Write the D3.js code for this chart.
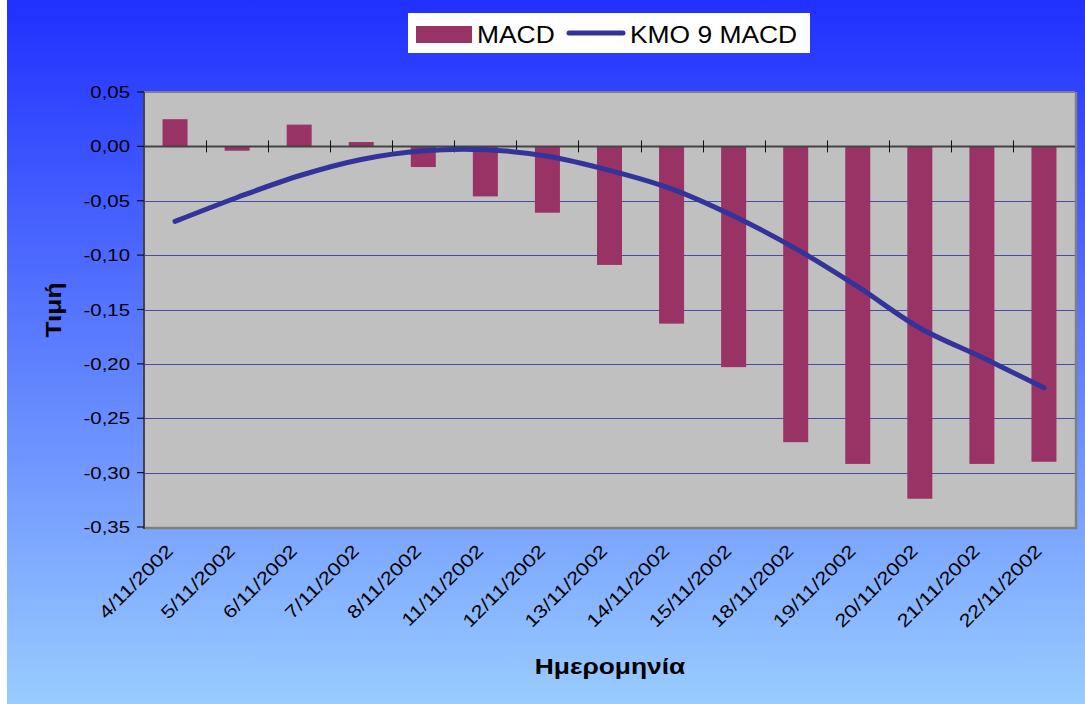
<!DOCTYPE html>
<html><head><meta charset="utf-8">
<script src="https://cdn.jsdelivr.net/npm/d3@7"></script>
<style>body{margin:0;background:#fff}svg{display:block}text{font-family:"Liberation Sans",Arial,sans-serif}</style>
</head><body><svg id="c" width="1085" height="704"></svg>
<script>
const categories = ["4/11/2002","5/11/2002","6/11/2002","7/11/2002","8/11/2002","11/11/2002","12/11/2002","13/11/2002","14/11/2002","15/11/2002","18/11/2002","19/11/2002","20/11/2002","21/11/2002","22/11/2002"];
const macd = [0.025,-0.004,0.020,0.004,-0.019,-0.046,-0.061,-0.109,-0.163,-0.203,-0.272,-0.292,-0.324,-0.292,-0.290];
const signal = [-0.069,-0.047,-0.027,-0.012,-0.004,-0.003,-0.009,-0.022,-0.039,-0.064,-0.094,-0.129,-0.167,-0.194,-0.222];
const yTicks = [0.05,0,-0.05,-0.10,-0.15,-0.20,-0.25,-0.30,-0.35];
const seriesNames = ["MACD","KMO 9 MACD"];

const svg = d3.select("#c");
const defs = svg.append("defs");
const grad = defs.append("linearGradient").attr("id","bg").attr("x1",0).attr("y1",0).attr("x2",0).attr("y2",1);
grad.append("stop").attr("offset","0%").attr("stop-color","#2030ff");
grad.append("stop").attr("offset","100%").attr("stop-color","#99ccff");
svg.append("rect").attr("x",7).attr("y",0).attr("width",1078).attr("height",704).attr("fill","url(#bg)");

const L=144,R=1075,T=92,B=527;
const x = d3.scaleBand().domain(categories).range([L,R]).paddingInner(0).paddingOuter(0);
const y = d3.scaleLinear().domain([-0.35,0.05]).range([B,T]);
const SX = 1.2;
const fmt = v => d3.format(".2f")(v).replace(".",",").replace("−","-");

// plot area
svg.append("rect").attr("x",L).attr("y",T).attr("width",R-L).attr("height",B-T).attr("fill","#c0c0c0");
// gridlines
svg.append("g").selectAll("line").data(yTicks.filter(v=>v!==0&&v!==0.05&&v!==-0.35)).join("line")
  .attr("x1",L).attr("x2",R).attr("y1",d=>Math.round(y(d))+0.5).attr("y2",d=>Math.round(y(d))+0.5)
  .attr("stroke","#4a4aa8").attr("stroke-width",1.2);
// border shadow
svg.append("line").attr("x1",L).attr("x2",R).attr("y1",T).attr("y2",T).attr("stroke","#808080").attr("stroke-width",2);
svg.append("line").attr("x1",R+1).attr("x2",R+1).attr("y1",T).attr("y2",B+2).attr("stroke","#808080").attr("stroke-width",2.5);
svg.append("line").attr("x1",L).attr("x2",R+2).attr("y1",B+1).attr("y2",B+1).attr("stroke","#808080").attr("stroke-width",2.5);

// bars
const bw = 25;
svg.append("g").selectAll("rect").data(macd).join("rect")
  .attr("x",(d,i)=>x(categories[i])+x.bandwidth()/2-bw/2)
  .attr("width",bw)
  .attr("y",d=>Math.min(y(d),y(0)))
  .attr("height",d=>Math.abs(y(d)-y(0)))
  .attr("fill","#993366");

// zero axis line
svg.append("line").attr("x1",L).attr("x2",R).attr("y1",y(0)).attr("y2",y(0)).attr("stroke","#444").attr("stroke-width",2);
// category ticks on zero line
svg.append("g").selectAll("line").data(categories.slice(1)).join("line")
  .attr("x1",d=>Math.round(x(d))+0.5).attr("x2",d=>Math.round(x(d))+0.5)
  .attr("y1",y(0)-6).attr("y2",y(0)+6).attr("stroke","#111").attr("stroke-width",1);

// y axis
svg.append("line").attr("x1",L).attr("x2",L).attr("y1",T).attr("y2",B+2).attr("stroke","#444").attr("stroke-width",2);
svg.append("g").selectAll("line").data(yTicks).join("line")
  .attr("x1",L-7).attr("x2",L).attr("y1",d=>y(d)).attr("y2",d=>y(d)).attr("stroke","#111").attr("stroke-width",1.2);
svg.append("g").selectAll("text").data(yTicks).join("text")
  .attr("transform",d=>`translate(${L-14},${y(d)+6}) scale(${SX},1)`)
  .attr("text-anchor","end").attr("font-size",17).attr("fill","#000")
  .text(d=>fmt(d));

// line
const line = d3.line().x((d,i)=>x(categories[i])+x.bandwidth()/2).y(d=>y(d)).curve(d3.curveCatmullRom.alpha(0.5));
svg.append("path").datum(signal).attr("d",line).attr("fill","none").attr("stroke","#333399")
  .attr("stroke-width",5).attr("stroke-linecap","round").attr("stroke-linejoin","round");

// x labels
svg.append("g").selectAll("text").data(categories).join("text")
  .attr("transform",d=>`translate(${x(d)+x.bandwidth()/2-1},${B+25}) rotate(-45) scale(1.22,1)`)
  .attr("text-anchor","end").attr("font-size",18).attr("fill","#000").text(d=>d);

// axis titles
svg.append("text").attr("transform",`translate(610,674) scale(${SX},1)`)
  .attr("text-anchor","middle").attr("font-size",22).attr("font-weight","bold").text("Ημερομηνία");
svg.append("text").attr("transform",`translate(61,310) rotate(-90) scale(${SX},1)`)
  .attr("text-anchor","middle").attr("font-size",22).attr("font-weight","bold").text("Τιμή");

// legend
const lg = svg.append("g");
lg.append("rect").attr("x",408).attr("y",13).attr("width",402).attr("height",40).attr("fill","#fff");
lg.append("rect").attr("x",416).attr("y",26).attr("width",56).attr("height",17).attr("fill","#993366");
lg.append("text").attr("transform","translate(477,43) scale(1.1,1)").attr("font-size",24).text(seriesNames[0]);
lg.append("line").attr("x1",569).attr("x2",623).attr("y1",33).attr("y2",33).attr("stroke","#333399").attr("stroke-width",5).attr("stroke-linecap","round");
lg.append("text").attr("transform","translate(630,43) scale(1.1,1)").attr("font-size",24).text(seriesNames[1]);
</script></body></html>
